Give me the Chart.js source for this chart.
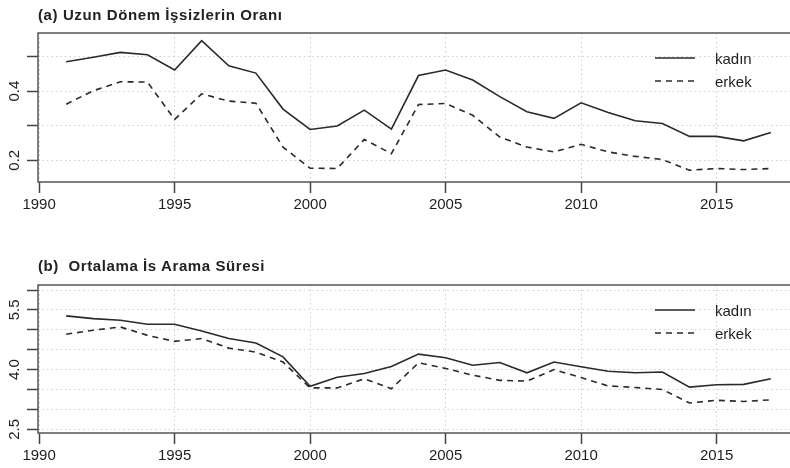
<!DOCTYPE html>
<html>
<head>
<meta charset="utf-8">
<script src="https://cdn.jsdelivr.net/npm/chart.js@4"></script>
<style>
  html, body { margin: 0; padding: 0; width: 790px; height: 468px; overflow: hidden; background: #fff; }
  .title { position: absolute; left: 38px; font-family: "Liberation Sans", Arial, sans-serif; font-weight: bold;
           font-size: 15px; line-height: 17px; letter-spacing: 0.6px; color: #222; white-space: pre; }
  .panel { position: absolute; left: 0; width: 800px; }
</style>
</head>
<body>
<div class="panel" style="top:0px;height:230px"><canvas id="chartA"></canvas></div>
<div class="panel" style="top:232px;height:236px"><canvas id="chartB"></canvas></div>
<div class="title" style="top:6px">(a) Uzun Dönem İşsizlerin Oranı</div>
<div class="title" style="top:257px">(b)  Ortalama İs Arama Süresi</div>

<script>
// Data
var years = [1991, 1992, 1993, 1994, 1995, 1996, 1997, 1998, 1999, 2000, 2001, 2002, 2003, 2004,
             2005, 2006, 2007, 2008, 2009, 2010, 2011, 2012, 2013, 2014, 2015, 2016, 2017];
var seriesNames = ['kadın', 'erkek'];

// (a) long-term unemployed share
var uzunKadin = [0.485, 0.498, 0.512, 0.505, 0.461, 0.546, 0.473, 0.452, 0.348, 0.289, 0.299, 0.345, 0.290, 0.445,
                 0.461, 0.432, 0.384, 0.340, 0.321, 0.366, 0.338, 0.314, 0.306, 0.269, 0.269, 0.256, 0.280];
var uzunErkek = [0.362, 0.401, 0.427, 0.426, 0.318, 0.392, 0.371, 0.365, 0.238, 0.177, 0.176, 0.260, 0.219, 0.361,
                 0.364, 0.330, 0.267, 0.238, 0.224, 0.246, 0.224, 0.211, 0.202, 0.171, 0.176, 0.173, 0.176];

// (b) average job search duration
var aramaKadin = [5.35, 5.28, 5.24, 5.14, 5.14, 4.97, 4.78, 4.67, 4.32, 3.58, 3.81, 3.90, 4.08, 4.39,
                  4.30, 4.11, 4.18, 3.92, 4.19, 4.07, 3.96, 3.92, 3.94, 3.56, 3.62, 3.63, 3.77];
var aramaErkek = [4.89, 4.99, 5.07, 4.86, 4.71, 4.78, 4.54, 4.44, 4.19, 3.54, 3.54, 3.77, 3.52, 4.17,
                  4.03, 3.86, 3.73, 3.71, 4.00, 3.80, 3.59, 3.55, 3.50, 3.16, 3.23, 3.20, 3.24];

// Tick values and labels
var xTicks = [1990, 1995, 2000, 2005, 2010, 2015];
var yTicksA = [0.2, 0.3, 0.4, 0.5];
var yLabelsA = ['0.2', '', '0.4', ''];
var yTicksB = [2.5, 3.0, 3.5, 4.0, 4.5, 5.0, 5.5, 6.0];
var yLabelsB = ['2.5', '', '', '4.0', '', '', '5.5', ''];

var FONT = '"Liberation Sans", Arial, sans-serif';
var INK = '#1e1e1e';

function toPoints(values) {
    return years.map(function(yr, i) { return { x: yr, y: values[i] }; });
}

// box around the plot region, like R's box()
var boxPlugin = {
    id: 'rBox',
    afterDraw: function(chart) {
        var a = chart.chartArea, ctx = chart.ctx;
        ctx.save();
        ctx.strokeStyle = '#555';
        ctx.lineWidth = 1.5;
        ctx.strokeRect(a.left, a.top, a.right - a.left, a.bottom - a.top);
        ctx.restore();
    }
};

// legend drawn in the top right corner of the plot
var legendPlugin = {
    id: 'rLegend',
    afterDatasetsDraw: function(chart) {
        var ctx = chart.ctx, top = chart.chartArea.top;
        chart.data.datasets.forEach(function(ds, i) {
            var y = top + 25 + i * 23;
            ctx.save();
            ctx.strokeStyle = ds.borderColor;
            ctx.lineWidth = ds.borderWidth;
            ctx.setLineDash(ds.borderDash || []);
            ctx.beginPath();
            ctx.moveTo(655, y);
            ctx.lineTo(695, y);
            ctx.stroke();
            ctx.setLineDash([]);
            ctx.fillStyle = INK;
            ctx.font = '15px ' + FONT;
            ctx.textBaseline = 'middle';
            ctx.fillText(ds.label, 715, y + 1.5);
            ctx.restore();
        });
    }
};

function makeChart(canvasId, kadin, erkek, yMin, yMax, yTicks, yLabels, padTop, xAxisHeight) {
    var ctx = document.getElementById(canvasId).getContext('2d');
    return new Chart(ctx, {
        type: 'line',
        data: {
            datasets: [
                {
                    label: seriesNames[0],
                    data: toPoints(kadin),
                    borderColor: '#2a2a2a',
                    borderWidth: 1.6,
                    pointRadius: 0,
                    fill: false
                },
                {
                    label: seriesNames[1],
                    data: toPoints(erkek),
                    borderColor: '#2a2a2a',
                    borderWidth: 1.6,
                    borderDash: [6, 5],
                    pointRadius: 0,
                    fill: false
                }
            ]
        },
        options: {
            responsive: true,
            maintainAspectRatio: false,
            animation: false,
            layout: { padding: { top: padTop, right: 1, left: 0, bottom: 0 } },
            plugins: { legend: { display: false }, tooltip: { enabled: false } },
            scales: {
                x: {
                    type: 'linear',
                    min: 1989.96,
                    max: 2018.04,
                    afterBuildTicks: function(s) { s.ticks = xTicks.map(function(v) { return { value: v }; }); },
                    afterFit: function(s) { s.height = xAxisHeight; },
                    grid: { color: '#cfcfcf', lineWidth: 1, tickLength: 11, tickColor: '#444', tickWidth: 1.5 },
                    border: { display: false, dash: [1.5, 3] },
                    ticks: {
                        color: INK, font: { family: FONT, size: 15 }, padding: 3,
                        maxRotation: 0, autoSkip: false,
                        callback: function(v) { return String(v); }
                    }
                },
                y: {
                    min: yMin,
                    max: yMax,
                    afterBuildTicks: function(s) { s.ticks = yTicks.map(function(v) { return { value: v }; }); },
                    afterFit: function(s) { s.width = 38; },
                    grid: { color: '#cfcfcf', lineWidth: 1, tickLength: 11, tickColor: '#444', tickWidth: 1.5 },
                    border: { display: false, dash: [1.5, 3] },
                    ticks: {
                        color: INK, font: { family: FONT, size: 15 }, padding: 2,
                        minRotation: 90, maxRotation: 90, crossAlign: 'center', autoSkip: false,
                        callback: function(v, i) { return yLabels[i]; }
                    }
                }
            }
        },
        plugins: [boxPlugin, legendPlugin]
    });
}

makeChart('chartA', uzunKadin, uzunErkek, 0.137, 0.568, yTicksA, yLabelsA, 33, 48);
makeChart('chartB', aramaKadin, aramaErkek, 2.407, 6.126, yTicksB, yLabelsB, 53, 35);
</script>
</body>
</html>
